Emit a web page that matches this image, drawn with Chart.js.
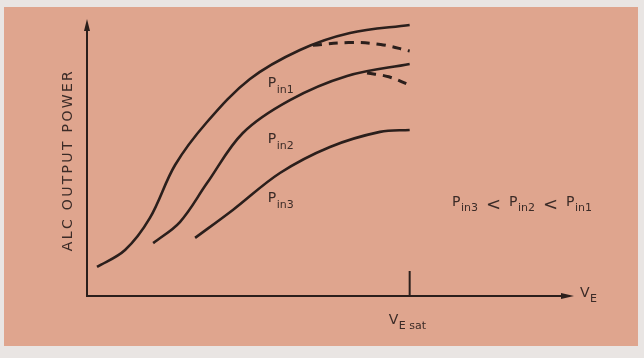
<!DOCTYPE html>
<html>
<head>
<meta charset="utf-8">
<script src="https://cdn.jsdelivr.net/npm/chart.js@4.4.1/dist/chart.umd.min.js"></script>
<style>
  html, body { margin: 0; padding: 0; background: #e9e5e3; }
  #wrap { width: 644px; height: 358px; }
</style>
</head>
<body>
<div id="wrap"><canvas id="alcChart" width="644" height="358"></canvas></div>
<script>
// emitter voltage (arbitrary units, VEsat = 10) and ALC output power (arbitrary units)
const ve1  = [0.31, 1.18, 1.95, 2.73, 3.72, 5.05, 6.60, 8.15, 10.0];
const out1 = [1.06, 1.68, 2.85, 4.78, 6.35, 7.92, 8.98, 9.60, 9.89];
const ve1Drop  = [7.0, 8.1, 9.1, 10.0];
const out1Drop = [9.15, 9.25, 9.18, 8.94];

const ve2  = [2.05, 2.88, 3.72, 4.83, 6.29, 8.06, 10.0];
const out2 = [1.93, 2.70, 4.12, 5.95, 7.15, 8.03, 8.47];
const ve2Drop  = [8.68, 9.35, 10.0];
const out2Drop = [8.14, 8.0, 7.70];

const ve3  = [3.35, 4.52, 5.98, 7.53, 9.08, 10.0];
const out3 = [2.12, 3.14, 4.49, 5.44, 5.99, 6.06];

const veSat = 10;
const curveLabels = ['1', '2', '3'];

function pts(xs, ys) {
    return xs.map((x, i) => ({ x: x, y: ys[i] }));
}

const ink = '#2b1f1c';
const textInk = '#3b2b27';
const panelColor = '#dfa58e';

function solid(data) {
    return { data: data, borderColor: ink, borderWidth: 2.6, pointRadius: 0, tension: 0.35, fill: false, clip: false };
}
function dashed(data) {
    return { data: data, borderColor: ink, borderWidth: 3, borderDash: [9, 7], pointRadius: 0, tension: 0.4, fill: false, clip: false };
}

// draws P with a subscript like "in1"
function drawSub(ctx, base, sub, x, y) {
    ctx.font = '14px "DejaVu Sans"';
    ctx.fillText(base, x, y);
    const w = ctx.measureText(base).width;
    ctx.font = '11px "DejaVu Sans"';
    ctx.fillText(sub, x + w + 0.5, y + 6);
    return w + 0.5 + ctx.measureText(sub).width;
}

const drawing = {
    id: 'drawing',
    beforeDraw(chart) {
        const ctx = chart.ctx;
        ctx.save();
        ctx.fillStyle = '#e9e5e3';
        ctx.fillRect(0, 0, chart.width, chart.height);
        ctx.fillStyle = panelColor;
        ctx.fillRect(4, 7, 634, 339);
        ctx.restore();
    },
    afterDraw(chart) {
        const ctx = chart.ctx;
        const xs = chart.scales.x, ys = chart.scales.y;
        const x0 = xs.getPixelForValue(0), y0 = ys.getPixelForValue(0);
        const top = ys.getPixelForValue(10);
        const right = xs.getPixelForValue(15);
        ctx.save();
        ctx.strokeStyle = ink;
        ctx.fillStyle = ink;
        ctx.lineWidth = 2;
        // axes
        ctx.beginPath();
        ctx.moveTo(x0, top + 6);
        ctx.lineTo(x0, y0);
        ctx.lineTo(right - 6, y0);
        ctx.stroke();
        // arrow heads
        ctx.beginPath();
        ctx.moveTo(x0, top - 3);
        ctx.lineTo(x0 - 3, top + 9);
        ctx.lineTo(x0 + 3, top + 9);
        ctx.closePath();
        ctx.fill();
        ctx.beginPath();
        ctx.moveTo(right + 3, y0);
        ctx.lineTo(right - 10, y0 - 3);
        ctx.lineTo(right - 10, y0 + 3);
        ctx.closePath();
        ctx.fill();
        // VEsat tick
        const sx = xs.getPixelForValue(veSat);
        ctx.beginPath();
        ctx.moveTo(sx, y0);
        ctx.lineTo(sx, y0 - 25);
        ctx.stroke();

        ctx.fillStyle = textInk;
        ctx.textBaseline = 'middle';
        ctx.textAlign = 'left';
        // axis labels
        drawSub(ctx, 'V', 'E', right + 9, y0 - 3);
        drawSub(ctx, 'V', 'E sat', sx - 21, y0 + 24);

        // curve labels
        const lx = xs.getPixelForValue(5.6);
        const ly = [ys.getPixelForValue(7.75), ys.getPixelForValue(5.7), ys.getPixelForValue(3.55)];
        curveLabels.forEach((n, i) => drawSub(ctx, 'P', 'in' + n, lx, ly[i]));

        // ordering note
        let nx = 452, ny = 202;
        const gap = 8;
        nx += drawSub(ctx, 'P', 'in3', nx, ny) + gap;
        ctx.font = '18px "DejaVu Sans"';
        ctx.fillText('<', nx, ny + 3);
        nx += ctx.measureText('<').width + gap;
        nx += drawSub(ctx, 'P', 'in2', nx, ny) + gap;
        ctx.font = '18px "DejaVu Sans"';
        ctx.fillText('<', nx, ny + 3);
        nx += ctx.measureText('<').width + gap;
        drawSub(ctx, 'P', 'in1', nx, ny);

        // y axis title
        ctx.translate(68, 160);
        ctx.rotate(-Math.PI / 2);
        ctx.font = '14px "DejaVu Sans"';
        const title = 'ALC OUTPUT POWER';
        const plain = ctx.measureText(title).width;
        ctx.letterSpacing = ((180 - plain) / (title.length - 1)).toFixed(2) + 'px';
        ctx.textAlign = 'center';
        ctx.fillText(title, 0, 0);
        ctx.restore();
    }
};

new Chart(document.getElementById('alcChart'), {
    type: 'line',
    data: {
        datasets: [
            solid(pts(ve1, out1)),
            dashed(pts(ve1Drop, out1Drop)),
            solid(pts(ve2, out2)),
            dashed(pts(ve2Drop, out2Drop)),
            solid(pts(ve3, out3))
        ]
    },
    options: {
        responsive: false,
        animation: false,
        layout: { padding: { left: 87, right: 73, top: 22, bottom: 62 } },
        plugins: { legend: { display: false }, tooltip: { enabled: false } },
        scales: {
            x: { type: 'linear', min: 0, max: 15, display: false },
            y: { type: 'linear', min: 0, max: 10, display: false }
        }
    },
    plugins: [drawing]
});
</script>
</body>
</html>
